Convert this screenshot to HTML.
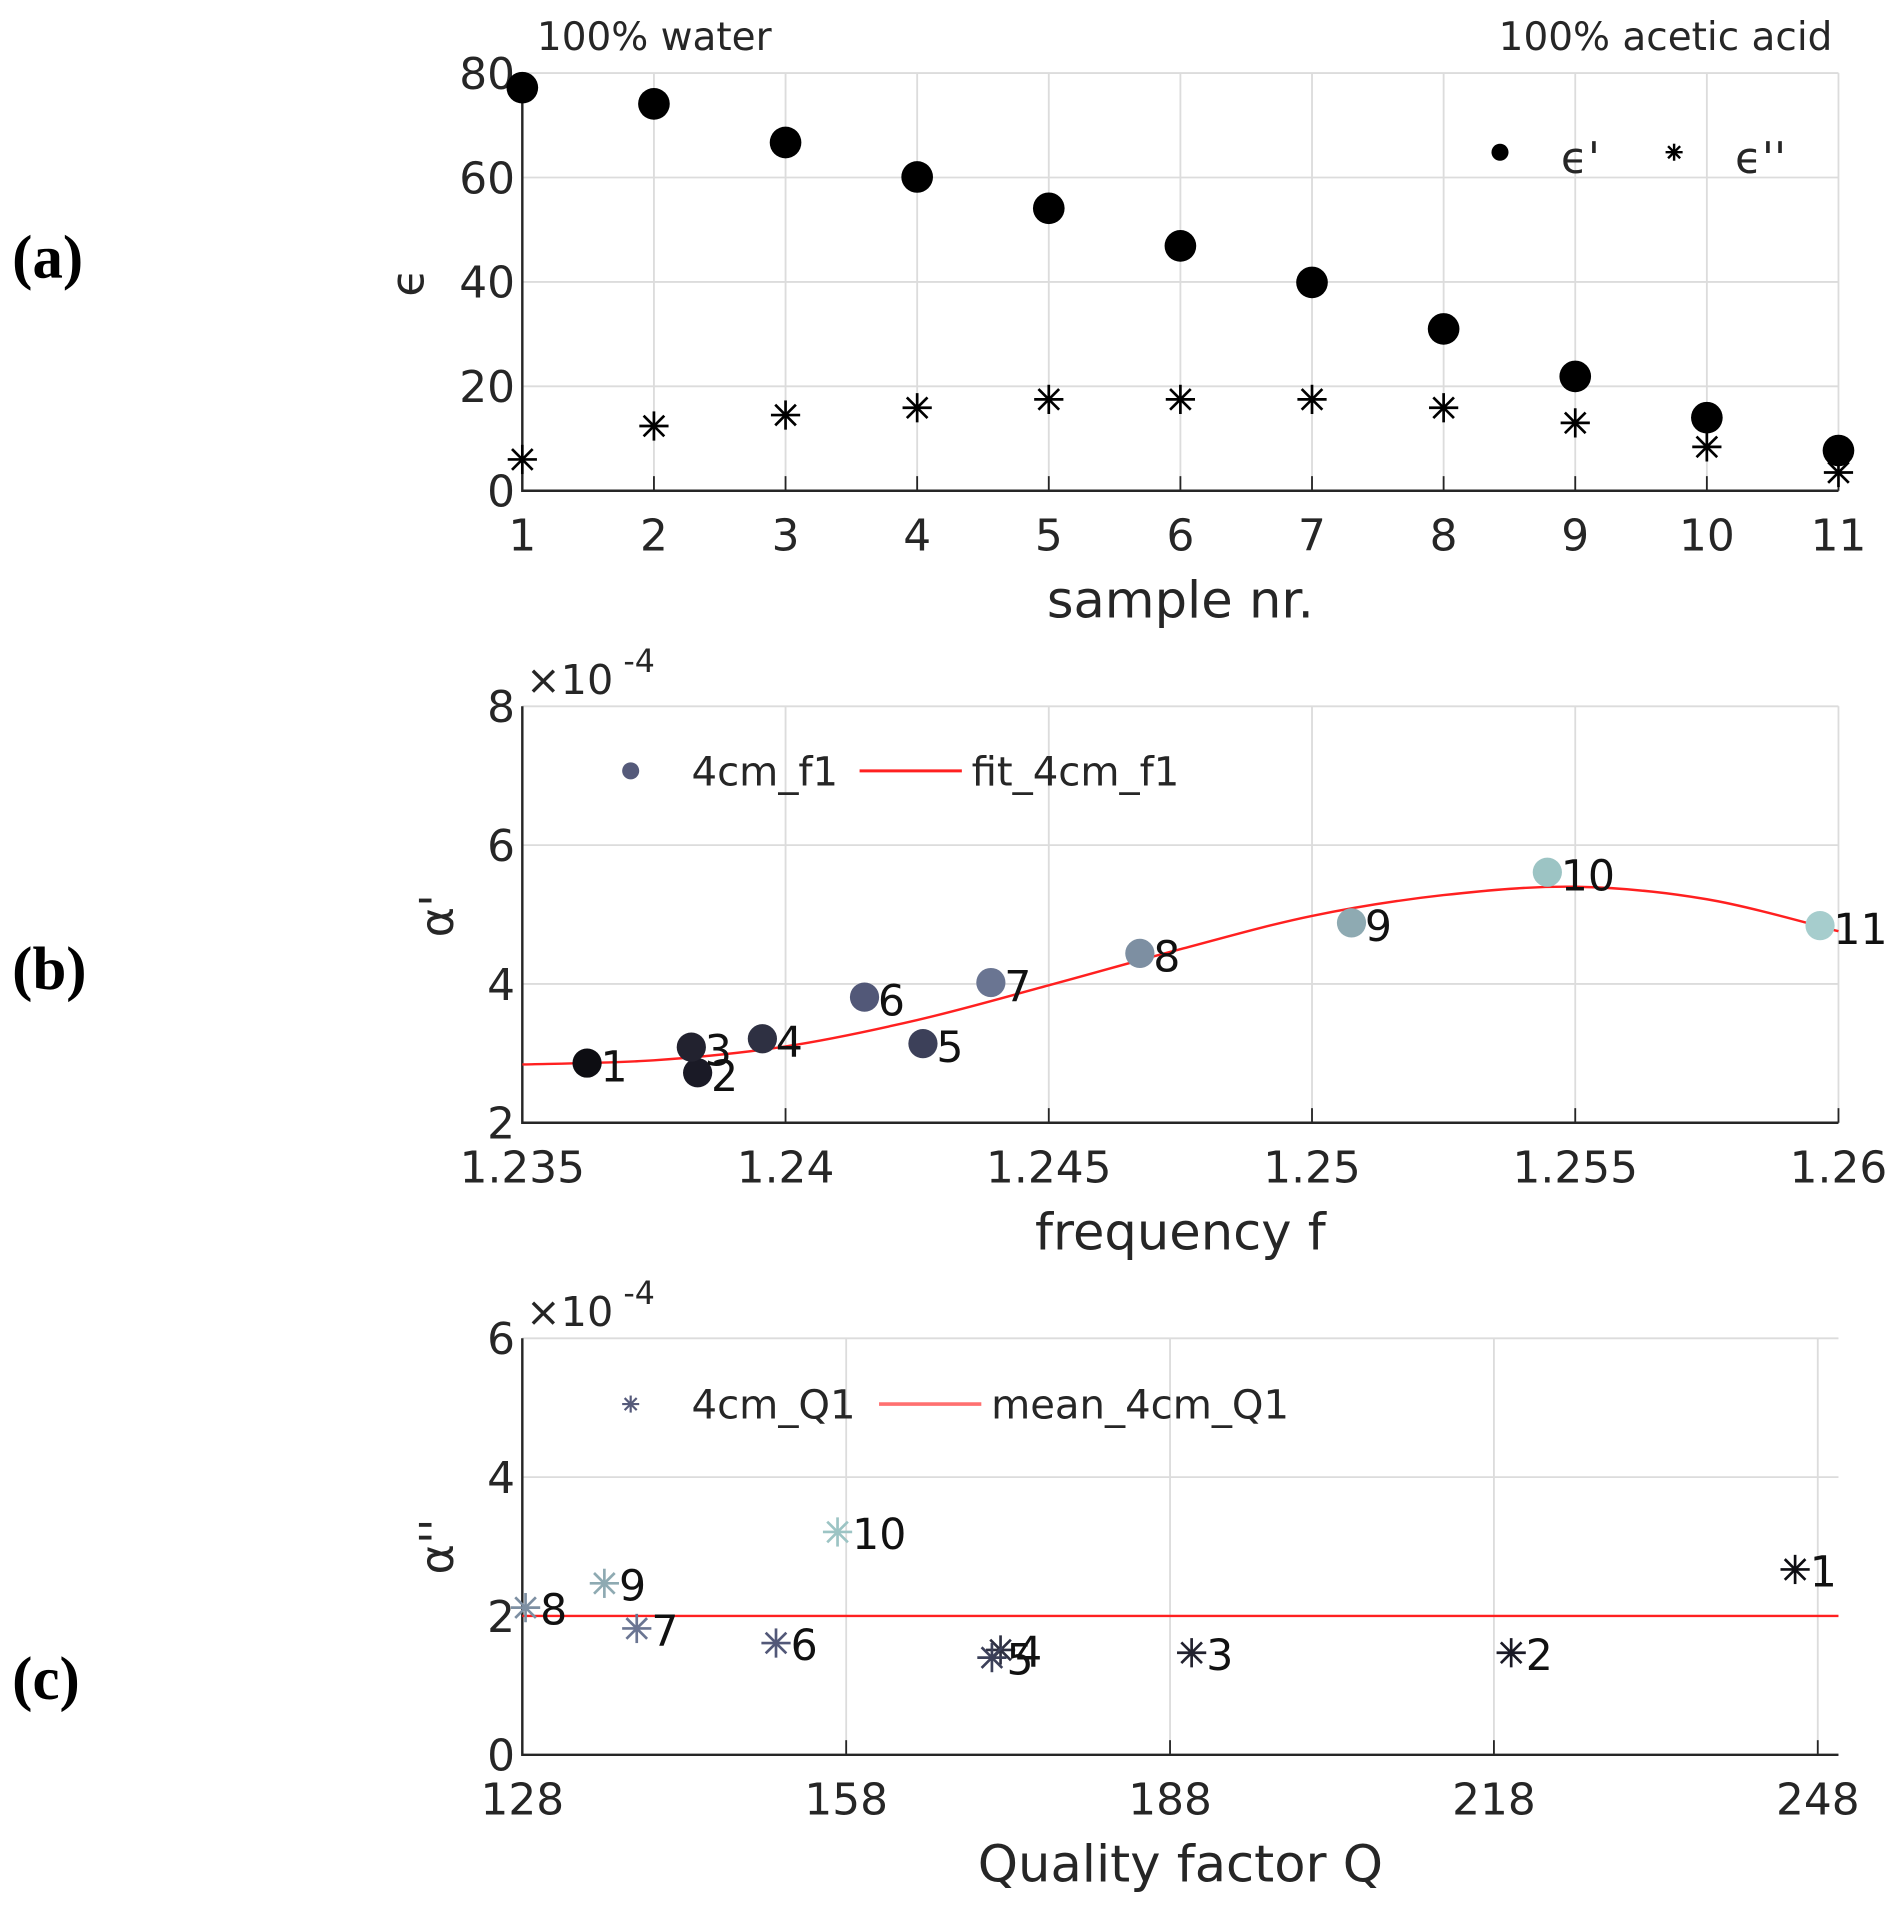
<!DOCTYPE html>
<html><head><meta charset="utf-8"><style>
html,body{margin:0;padding:0;background:#fff;}
svg{display:block;}
text{font-family:"DejaVu Sans","Liberation Sans",sans-serif;fill:#262626;}
</style></head><body>
<svg id="fig" width="1903" height="1907" viewBox="0 0 1563 1566" preserveAspectRatio="none" xmlns="http://www.w3.org/2000/svg">
<g id="A"></g>
<g id="B"></g>
<g id="C"></g>
</svg>
<script>
// Panel (a)
const aSamples=[1,2,3,4,5,6,7,8,9,10,11];
const aEpsReal=[77.2,74.1,66.7,60.1,54.1,46.9,39.9,31,21.9,14,7.7];
const aEpsImag=[6,12.4,14.5,15.9,17.5,17.5,17.5,15.9,13,8.4,3.5];
const aYTicks=[0,20,40,60,80];
// Panel (b)
const bFreq=[1.23623,1.23833,1.23821,1.23956,1.24261,1.2415,1.2439,1.24673,1.25075,1.25447,1.25965];
const bAlpha=[2.86,2.72,3.09,3.21,3.14,3.81,4.02,4.44,4.88,5.61,4.84];
const bLabels=["1","2","3","4","5","6","7","8","9","10","11"];
const bFitX=[1.235,1.2375,1.24,1.2425,1.245,1.2475,1.25,1.2525,1.255,1.2575,1.26];
const bFitY=[2.84,2.9,3.1,3.48,3.98,4.5,4.98,5.28,5.4,5.22,4.76];
const bXTicks=["1.235","1.24","1.245","1.25","1.255","1.26"];
const bYTicks=[2,4,6,8];
// Panel (c)
const cQ=[245.9,219.6,190,172.3,171.5,151.5,138.6,128.3,135.6,157.2];
const cAlpha=[2.67,1.47,1.47,1.51,1.40,1.61,1.82,2.12,2.47,3.21];
const cLabels=["1","2","3","4","5","6","7","8","9","10"];
const cMean=[2.0];
const cXTicks=[128,158,188,218,248];
const cYTicks=[0,2,4,6];

const colors=["#0d0d12","#1a1a26","#22222f","#2e3042","#3c4059","#525878","#6a7592","#7d8fa2","#8eaab2","#9cc4c4","#a6cdcd"];
const NS="http://www.w3.org/2000/svg";
function mk(parent,tag,attrs,txt){const e=document.createElementNS(NS,tag);for(const k in attrs)e.setAttribute(k,attrs[k]);if(txt!==undefined)e.textContent=txt;parent.appendChild(e);return e;}
function scale(d0,d1,r0,r1){return v=>r0+(v-d0)/(d1-d0)*(r1-r0);}
function star(g,x,y,r,col,w){
  for(const a of [0,45,90,135]){const t=a*Math.PI/180;
    const l=mk(g,'line',{x1:x-r*Math.cos(t),y1:y-r*Math.sin(t),x2:x+r*Math.cos(t),y2:y+r*Math.sin(t),stroke:col,'stroke-width':w});
    
    }
}
function axes(g,L,R,T,B,xs,ys,xt,yt,xlab){
  xt.forEach(v=>{const x=xs(+v);const l=mk(g,'line',{x1:x,x2:x,y1:T,y2:B,stroke:'#dcdcdc','stroke-width':1.5});
    
    const tk=mk(g,'line',{x1:x,x2:x,y1:B,y2:B-12,stroke:'#262626','stroke-width':1.5});
    
    const t=mk(g,'text',{x:x,y:B+49,'font-size':36,'text-anchor':'middle'},String(v));
    });
  yt.forEach(v=>{const y=ys(v);const l=mk(g,'line',{x1:L,x2:R,y1:y,y2:y,stroke:'#dcdcdc','stroke-width':1.5});
    
    const t=mk(g,'text',{x:L-6,y:y+13,'font-size':36,'text-anchor':'end'},String(v));
    });
  const ax=mk(g,'path',{d:`M${L},${T}V${B}H${R}`,fill:'none',stroke:'#262626','stroke-width':2});
  
  const xl=mk(g,'text',{x:(L+R)/2,y:B+104,'font-size':42,'text-anchor':'middle'},xlab);
  
}
function panelLabel(g,y,t){const e=mk(g,'text',{x:10,y:y,'font-size':50,'font-weight':'bold',style:'font-family:"Liberation Serif",serif;fill:#000'},t);
  }

// ---- Panel A
(function(){const g=document.getElementById('A');const L=429,R=1510,T=60,B=403;
 const xs=scale(1,11,L,R),ys=scale(0,80,B,T);
 axes(g,L,R,T,B,xs,ys,aSamples,aYTicks,'sample nr.');
 const yl=mk(g,'text',{x:0,y:0,'font-size':38,transform:`translate(348,232) rotate(-90)`,'text-anchor':'middle'},'ϵ');
 
 aSamples.forEach((s,i)=>{const c=mk(g,'circle',{cx:xs(s),cy:ys(aEpsReal[i]),r:13,fill:'#000'});
   
   star(g,xs(s),ys(aEpsImag[i]),12,'#000',2.2);});
 const t1=mk(g,'text',{x:441,y:41,'font-size':32},'100% water');
 const t2=mk(g,'text',{x:1505,y:41,'font-size':32,'text-anchor':'end'},'100% acetic acid');
 const lc=mk(g,'circle',{cx:1232,cy:125,r:7,fill:'#000'});
 const l1=mk(g,'text',{x:1282,y:142,'font-size':36},"ϵ'");
 star(g,1375,125,7,'#000',2);
 const l2=mk(g,'text',{x:1425,y:142,'font-size':36},"ϵ''");
 panelLabel(g,228,'(a)');})();

// ---- Panel B
(function(){const g=document.getElementById('B');const L=429,R=1510,T=580,B=922;
 const xs=scale(1.235,1.26,L,R),ys=scale(2,8,B,T);
 axes(g,L,R,T,B,xs,ys,bXTicks,bYTicks,'frequency f');
 const ex=mk(g,'text',{x:432,y:570,'font-size':34},'×10');
 const ex2=mk(g,'text',{x:512,y:552,'font-size':26},'-4');
 const yl=mk(g,'text',{x:0,y:0,'font-size':38,transform:`translate(372,752) rotate(-90)`,'text-anchor':'middle'},"α'");
 
 const P=bFitX.map((x,i)=>[xs(x),ys(bFitY[i])]);let d=`M${P[0][0]},${P[0][1]}`;
 for(let i=0;i<P.length-1;i++){const p0=P[Math.max(i-1,0)],p1=P[i],p2=P[i+1],p3=P[Math.min(i+2,P.length-1)];
  d+=`C${p1[0]+(p2[0]-p0[0])/6},${p1[1]+(p2[1]-p0[1])/6} ${p2[0]-(p3[0]-p1[0])/6},${p2[1]-(p3[1]-p1[1])/6} ${p2[0]},${p2[1]}`;}
 const fit=mk(g,'path',{d:d,fill:'none',stroke:'#ff2020','stroke-width':2});
 
 bFreq.forEach((f,i)=>{const c=mk(g,'circle',{cx:xs(f),cy:ys(bAlpha[i]),r:12,fill:colors[i]});
   
   const t=mk(g,'text',{x:xs(f)+11,y:ys(bAlpha[i])+15,'font-size':35,style:'fill:#111'},bLabels[i]);
   });
 const lc=mk(g,'circle',{cx:518,cy:633,r:7,fill:'#555a7a'});
 const l1=mk(g,'text',{x:568,y:645,'font-size':33},'4cm_f1');
 const ll=mk(g,'line',{x1:706,x2:790,y1:633,y2:633,stroke:'#ff2020','stroke-width':2.5});
 const l2=mk(g,'text',{x:798,y:645,'font-size':33},'fit_4cm_f1');
 panelLabel(g,812,'(b)');})();

// ---- Panel C
(function(){const g=document.getElementById('C');const L=429,R=1510,T=1099,B=1441;
 const xs=scale(128,158,L,695),ys=scale(0,6,B,T);
 axes(g,L,R,T,B,xs,ys,cXTicks,cYTicks,'Quality factor Q');
 const ex=mk(g,'text',{x:432,y:1089,'font-size':34},'×10');
 const ex2=mk(g,'text',{x:512,y:1071,'font-size':26},'-4');
 const yl=mk(g,'text',{x:0,y:0,'font-size':38,transform:`translate(372,1270) rotate(-90)`,'text-anchor':'middle'},"α''");
 
 const m=mk(g,'line',{x1:L,x2:R,y1:ys(cMean[0]),y2:ys(cMean[0]),stroke:'#ff2020','stroke-width':2});
 
 cQ.forEach((q,i)=>{star(g,xs(q),ys(cAlpha[i]),12,colors[i],2.2);
   const t=mk(g,'text',{x:xs(q)+12,y:ys(cAlpha[i])+14,'font-size':35,style:'fill:#111'},cLabels[i]);
   });
 star(g,518,1153,7,'#555a7a',1.8);
 const l1=mk(g,'text',{x:568,y:1165,'font-size':33},'4cm_Q1');
 const ll=mk(g,'line',{x1:722,x2:806,y1:1153,y2:1153,stroke:'#ff7070','stroke-width':3});
 const l2=mk(g,'text',{x:814,y:1165,'font-size':33},'mean_4cm_Q1');
 panelLabel(g,1395,'(c)');})();
</script>
</body></html>
